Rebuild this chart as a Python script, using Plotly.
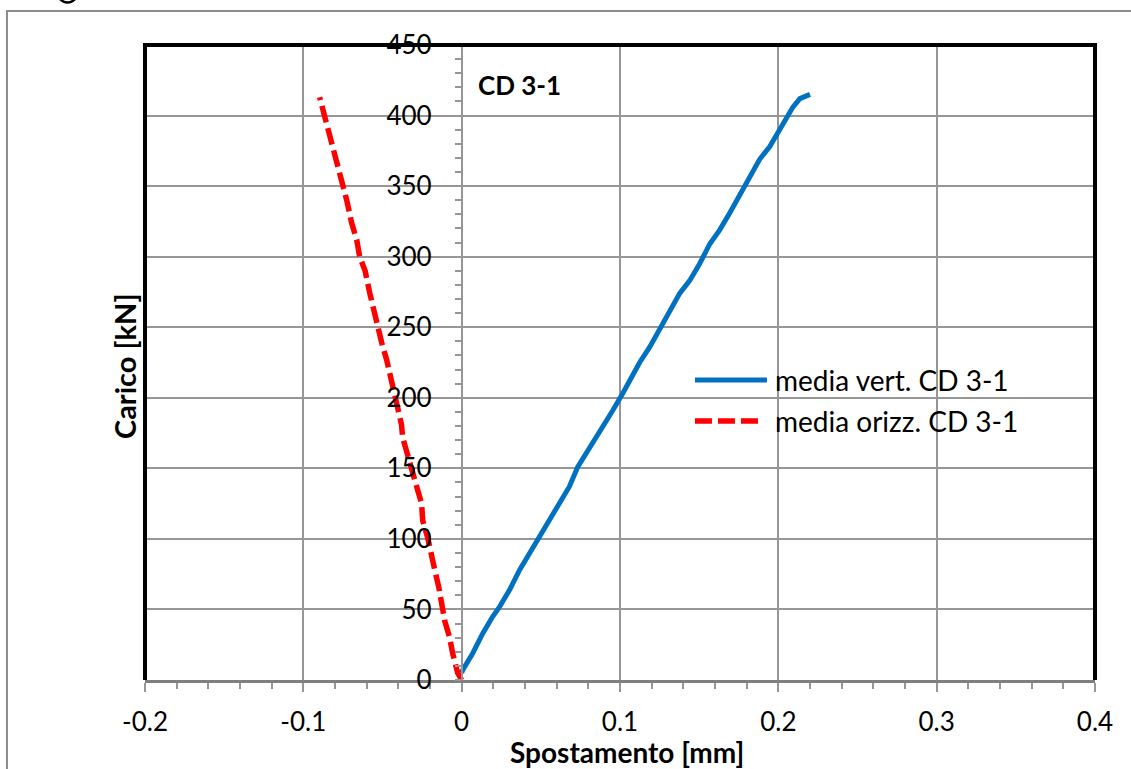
import plotly.graph_objects as go

# Data (Spostamento [mm], Carico [kN])
vert_x = [0.0, 0.0006, 0.007, 0.0133, 0.0196, 0.024, 0.0303, 0.0366, 0.043, 0.049, 0.0556,
          0.062, 0.068, 0.0733, 0.079, 0.0853, 0.0903, 0.0954, 0.1017, 0.1061, 0.1124,
          0.1188, 0.125, 0.1314, 0.1377, 0.144, 0.1503, 0.1567, 0.163, 0.1693, 0.1737,
          0.18, 0.1882, 0.1946, 0.2009, 0.2053, 0.2092, 0.2136, 0.2170, 0.2200]
vert_y = [5, 7, 19, 33, 45, 52, 64, 78, 90, 101, 113,
          125, 137, 151, 161, 172, 182, 191, 203, 212, 225,
          236, 248, 262, 274, 283, 295, 309, 319, 331, 340,
          352, 369, 378, 390, 399, 406, 412, 414, 415]

oriz_x = [0.0, -0.0012, -0.0025, -0.0057, -0.0076, -0.0107, -0.0126, -0.0145, -0.017, -0.019,
          -0.0215, -0.0246, -0.0253, -0.0284, -0.0316, -0.0347, -0.0373, -0.038, -0.041,
          -0.0443, -0.0474, -0.0505, -0.053, -0.055, -0.058, -0.061, -0.0644, -0.0663,
          -0.0695, -0.0726, -0.0758, -0.079, -0.082, -0.085, -0.0884, -0.0897]
oriz_y = [0, 2, 5, 19, 30, 42, 55, 66, 78, 90,
          101, 113, 125, 137, 149, 161, 172, 181, 196,
          213, 227, 239, 250, 260, 274, 290, 300, 312,
          324, 340, 354, 368, 382, 395, 407, 413]

name_vert = "media vert. CD 3-1"
name_oriz = "media orizz. CD 3-1"
x_ticks = [-0.2, -0.1, 0, 0.1, 0.2, 0.3, 0.4]
x_tick_text = ["-0.2", "-0.1", "0", "0.1", "0.2", "0.3", "0.4"]

FONT = "Lato"
BLUE = "#0070C0"
RED = "#FF0000"
GRID = "#969696"

fig = go.Figure()
fig.add_trace(go.Scatter(x=vert_x, y=vert_y, mode="lines", name=name_vert,
                         line=dict(color=BLUE, width=5), showlegend=False))
fig.add_trace(go.Scatter(x=oriz_x, y=oriz_y, mode="lines", name=name_oriz,
                         line=dict(color=RED, width=5.5, dash="17px,6px"), showlegend=False))

fig.update_layout(
    width=1131, height=769,
    margin=dict(l=145, r=36, t=45, b=89),
    paper_bgcolor="white", plot_bgcolor="white",
    font=dict(family=FONT, size=26, color="black"),
    showlegend=False,
    xaxis=dict(range=[-0.2, 0.4], tickvals=x_ticks, ticktext=x_tick_text,
               showgrid=True, gridcolor=GRID, gridwidth=1.5, zeroline=False,
               showline=True, linecolor="#7f7f7f", linewidth=3,
               ticks="outside", ticklen=9, tickwidth=1.5, tickcolor=GRID,
               ticklabelstandoff=8,
               minor=dict(dtick=0.02, ticks="outside", ticklen=6, tickwidth=1.5,
                          tickcolor=GRID, showgrid=False),
               tickfont=dict(size=26)),
    yaxis=dict(range=[0, 450], dtick=50, anchor="free", position=1/3,
               showgrid=True, gridcolor=GRID, gridwidth=1.5, zeroline=False,
               showline=True, linecolor=GRID, linewidth=1.5,
               ticks="outside", ticklen=6, tickwidth=1.5, tickcolor=GRID,
               ticklabelstandoff=18,
               minor=dict(dtick=10, ticks="outside", ticklen=6, tickwidth=1.5,
                          tickcolor=GRID, showgrid=False),
               tickfont=dict(size=26)),
)

# Plot-area thick black border (top, left, right)
fig.add_shape(type="path", xref="paper", yref="paper",
              path="M 0,0 L 0,1 L 1,1 L 1,0", line=dict(color="black", width=4))
# Outer chart border
fig.add_shape(type="rect", xref="paper", yref="paper",
              x0=-0.1453, y0=-0.25, x1=1.1, y1=1.0535,
              line=dict(color="#8c8c8c", width=2), layer="below")
# small arc artifact at top-left
fig.add_shape(type="circle", xref="paper", yref="paper",
              x0=-0.0947, x1=-0.0684, y0=1.067, y1=1.12,
              line=dict(color="black", width=2.5))

# Axis titles
fig.add_annotation(text="<b>Spostamento [mm]</b>", xref="paper", yref="paper",
                   x=0.507, y=-0.113, showarrow=False, font=dict(size=28),
                   xanchor="center", yanchor="middle")
fig.add_annotation(text="<b>Carico [kN]</b>", xref="paper", yref="paper",
                   x=-0.021, y=0.4945, showarrow=False, font=dict(size=29),
                   textangle=-90, xanchor="center", yanchor="middle")
# Chart label
fig.add_annotation(text="<b>CD 3-1</b>", xref="paper", yref="paper",
                   x=0.3484, y=0.937, showarrow=False, font=dict(size=26),
                   xanchor="left", yanchor="middle")

# Manual legend
leg_x0, leg_x1_solid, leg_x1_dash, leg_tx = 0.5789, 0.6547, 0.6455, 0.661
leg_y = [0.4724, 0.4079]
fig.add_shape(type="line", xref="paper", yref="paper", x0=leg_x0, x1=leg_x1_solid,
              y0=leg_y[0], y1=leg_y[0], line=dict(color=BLUE, width=5))
fig.add_shape(type="line", xref="paper", yref="paper", x0=leg_x0, x1=leg_x1_dash,
              y0=leg_y[1], y1=leg_y[1], line=dict(color=RED, width=5.5, dash="17px,6px"))
for yy, nm in zip(leg_y, [name_vert, name_oriz]):
    fig.add_annotation(text=nm, xref="paper", yref="paper", x=leg_tx, y=yy,
                       showarrow=False, font=dict(size=28),
                       xanchor="left", yanchor="middle", bgcolor="rgba(0,0,0,0)")

fig.write_html("out.html")
